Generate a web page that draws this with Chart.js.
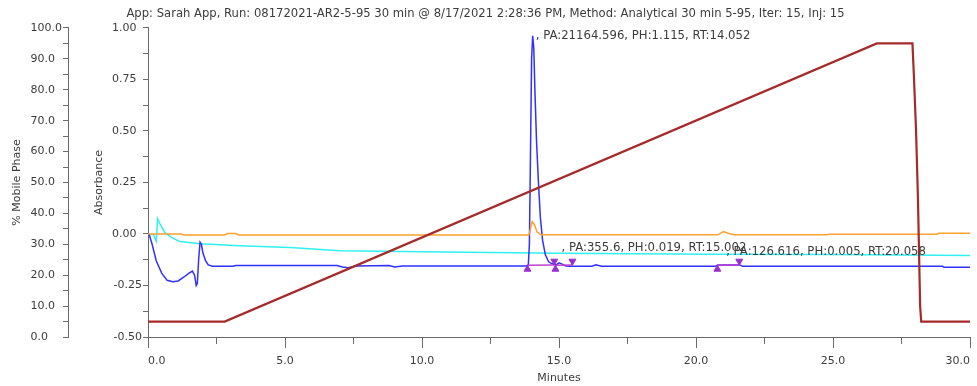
<!DOCTYPE html>
<html><head><meta charset="utf-8">
<script src="https://cdn.jsdelivr.net/npm/chart.js@4/dist/chart.umd.min.js"></script>
<style>html,body{margin:0;padding:0;background:#fff;overflow:hidden}</style>
</head><body>
<canvas id="c" width="977" height="386"></canvas>
<script>
// ---- text ----
const chartTitle = "App: Sarah App, Run: 08172021-AR2-5-95 30 min @ 8/17/2021 2:28:36 PM, Method: Analytical 30 min 5-95, Iter: 15, Inj: 15";
const xAxisTitle = "Minutes";
const mpAxisTitle = "% Mobile Phase";
const absAxisTitle = "Absorbance";

// ---- gradient (% mobile phase) ----
const mpTime    = [0, 2.8, 26.6, 27.9, 27.95, 28.03, 28.1, 28.18, 28.22, 30.0];
const mpPercent = [5, 5,   95,   95,   85,    67,    45,   10,    5,     5];

// ---- blue absorbance trace ----
const blueTime = [0, 0.05, 0.15, 0.3, 0.5, 0.7, 0.9, 1.1, 1.3, 1.5, 1.62, 1.7, 1.76, 1.8, 1.85, 1.9, 1.95, 2.0, 2.1, 2.2, 2.35,
  3.1, 3.2, 6.9, 7.1, 7.3, 7.6, 8.8, 9.0, 9.3,
  13.8, 13.88, 13.92, 13.96, 14.0, 14.04, 14.08, 14.12, 14.18, 14.25, 14.32, 14.4, 14.5, 14.62, 14.75, 14.9, 15.0, 15.1, 15.25, 15.4,
  16.2, 16.35, 16.55, 20.7, 20.8, 21.6, 21.7, 29.0, 29.05, 30.0];
const blueAbs  = [0, -0.005, -0.05, -0.13, -0.19, -0.225, -0.232, -0.228, -0.21, -0.19, -0.18, -0.2, -0.25, -0.24, -0.12, -0.04, -0.05, -0.09, -0.13, -0.15, -0.157,
  -0.157, -0.153, -0.153, -0.16, -0.164, -0.155, -0.153, -0.16, -0.155,
  -0.155, -0.15, -0.05, 0.4, 0.85, 0.962, 0.9, 0.7, 0.45, 0.25, 0.08, -0.03, -0.1, -0.135, -0.145, -0.15, -0.14, -0.145, -0.155, -0.157,
  -0.157, -0.15, -0.157, -0.157, -0.15, -0.15, -0.157, -0.157, -0.162, -0.162];

// ---- orange absorbance trace ----
const orangeTime = [0, 1.2, 1.3, 2.8, 2.9, 3.2, 3.3, 13.9, 13.95, 14.02, 14.1, 14.2, 14.35, 20.8, 21.0, 21.2, 21.4, 24.8, 24.85, 28.8, 28.85, 30.0];
const orangeAbs  = [0, 0, -0.005, -0.005, 0.002, 0.002, -0.005, -0.005, 0.02, 0.06, 0.045, 0.01, -0.004, -0.004, 0.012, 0.002, -0.004, -0.004, -0.001, -0.001, 0.003, 0.003];

// ---- cyan absorbance trace ----
const cyanTime = [0, 0.2, 0.3, 0.35, 0.45, 0.62, 0.9, 1.17, 1.9, 3.35, 5.18, 7.0, 10.0, 15.0, 20.5, 25.0, 30.0];
const cyanAbs  = [0, -0.003, -0.035, 0.074, 0.045, 0.006, -0.02, -0.037, -0.047, -0.057, -0.066, -0.081, -0.086, -0.094, -0.098, -0.1, -0.104];

// ---- integration baselines & peak markers ----
const baseTime = [13.85, 14.83, null, 14.87, 15.49, null, 20.78, 21.58];
const baseAbs  = [-0.152, -0.15, null, -0.152, -0.15, null, -0.152, -0.15];
const peakStartTime = [13.85, 14.87, 20.78];
const peakStartAbs  = [-0.171, -0.171, -0.171];
const peakEndTime   = [14.83, 15.49, 21.58];
const peakEndAbs    = [-0.132, -0.132, -0.132];

// ---- peak annotations ----
const annotTexts = [", PA:21164.596, PH:1.115, RT:14.052", ", PA:355.6, PH:0.019, RT:15.002", ", PA:126.616, PH:0.005, RT:20.058"];
const annotTime  = [14.15, 15.09, 21.1];
const annotAbs   = [0.963, -0.066, -0.086];

const pts = (xs, ys) => xs.map((x, i) => (x === null ? {x: NaN, y: null} : {x, y: ys[i]}));

Chart.defaults.font.family = "'DejaVu Sans', sans-serif";
Chart.defaults.color = '#3c3c3c';

const annotPlugin = {
  id: 'annot',
  afterDatasetsDraw(chart) {
    const {ctx, scales} = chart;
    ctx.save();
    ctx.font = "11.7px 'DejaVu Sans'";
    ctx.fillStyle = '#3c3c3c';
    ctx.textAlign = 'left';
    ctx.textBaseline = 'middle';
    annotTexts.forEach((t, i) => {
      ctx.fillText(t, scales.x.getPixelForValue(annotTime[i]), scales.yAbs.getPixelForValue(annotAbs[i]));
    });
    ctx.restore();
  }
};

const axisGray = '#6a6a6a';
const isMult = (v, s) => Math.abs(v / s - Math.round(v / s)) < 1e-6;

new Chart(document.getElementById('c'), {
  type: 'line',
  data: {
    datasets: [
      {label: 'gradient', data: pts(mpTime, mpPercent), yAxisID: 'yMP', borderColor: '#a52a2a', borderWidth: 2.2, pointRadius: 0},
      {label: 'start', data: pts(peakStartTime, peakStartAbs), yAxisID: 'yAbs', showLine: false, pointStyle: 'triangle', pointRadius: 4, pointBackgroundColor: '#9a2fd0', pointBorderColor: '#9a2fd0', pointBorderWidth: 1},
      {label: 'end', data: pts(peakEndTime, peakEndAbs), yAxisID: 'yAbs', showLine: false, pointStyle: 'triangle', rotation: 180, pointRadius: 4, pointBackgroundColor: '#9a2fd0', pointBorderColor: '#9a2fd0', pointBorderWidth: 1},
      {label: 'baseline', data: pts(baseTime, baseAbs), yAxisID: 'yAbs', borderColor: '#c040d0', borderWidth: 1.5, pointRadius: 0, spanGaps: false},
      {label: 'orange', data: pts(orangeTime, orangeAbs), yAxisID: 'yAbs', borderColor: '#ffa030', borderWidth: 1.5, pointRadius: 0},
      {label: 'blue', data: pts(blueTime, blueAbs), yAxisID: 'yAbs', borderColor: '#3030ff', borderWidth: 1.5, pointRadius: 0},
      {label: 'cyan', data: pts(cyanTime, cyanAbs), yAxisID: 'yAbs', borderColor: '#30f0f0', borderWidth: 1.5, pointRadius: 0}
    ]
  },
  options: {
    responsive: false,
    animation: false,
    devicePixelRatio: 1,
    layout: {padding: {left: 0, right: 6, top: 0, bottom: 0}},
    elements: {line: {tension: 0}},
    plugins: {
      legend: {display: false},
      tooltip: {enabled: false},
      title: {display: true, text: chartTitle, font: {size: 11.6, weight: 'normal'}, color: '#3c3c3c', padding: {top: 7, bottom: 7}}
    },
    scales: {
      x: {
        type: 'linear', position: 'bottom', min: 0, max: 30,
        afterFit: s => { s.height = 49; },
        ticks: {stepSize: 2.5, autoSkip: false, maxRotation: 0, align: 'inner', padding: 7, font: {size: 11}, color: '#3c3c3c',
          callback: v => (isMult(v, 5) ? v.toFixed(1) : '')},
        grid: {drawOnChartArea: false, tickLength: 11, tickColor: axisGray,
          tickBorderDash: ctx => (isMult(ctx.tick.value, 5) ? [] : [6, 30])},
        border: {display: true, color: axisGray},
        title: {display: true, text: xAxisTitle, font: {size: 11}, color: '#3c3c3c', padding: {top: 0, bottom: 1}}
      },
      yMP: {
        type: 'linear', position: 'left', weight: 2, min: 0, max: 100,
        afterFit: s => { s.width = 68; },
        ticks: {stepSize: 5, autoSkip: false, crossAlign: 'near', padding: 1, font: {size: 11}, color: '#3c3c3c',
          callback: v => (isMult(v, 10) ? (v.toFixed(1) + (v < 100 ? '\u2007' : '') + (v < 10 ? '\u2007' : '')) : '')},
        grid: {drawOnChartArea: false, tickLength: 5, tickColor: axisGray},
        border: {display: true, color: axisGray},
        title: {display: true, text: mpAxisTitle, font: {size: 11}, color: '#3c3c3c', padding: {top: 11, bottom: 0}}
      },
      yAbs: {
        type: 'linear', position: 'left', weight: 1, min: -0.5, max: 1.0,
        afterFit: s => { s.width = 80; },
        ticks: {stepSize: 0.125, autoSkip: false, crossAlign: 'near', padding: 1, font: {size: 11}, color: '#3c3c3c',
          callback: v => (isMult(v, 0.25) ? (v < 0 ? '-' + Math.abs(v).toFixed(2) : v.toFixed(2) + '\u2002') : '')},
        grid: {drawOnChartArea: false, tickLength: 5, tickColor: axisGray},
        border: {display: true, color: axisGray},
        title: {display: true, text: absAxisTitle, font: {size: 11}, color: '#3c3c3c', padding: {top: 25, bottom: 0}}
      }
    }
  },
  plugins: [annotPlugin]
});
</script>
</body></html>
